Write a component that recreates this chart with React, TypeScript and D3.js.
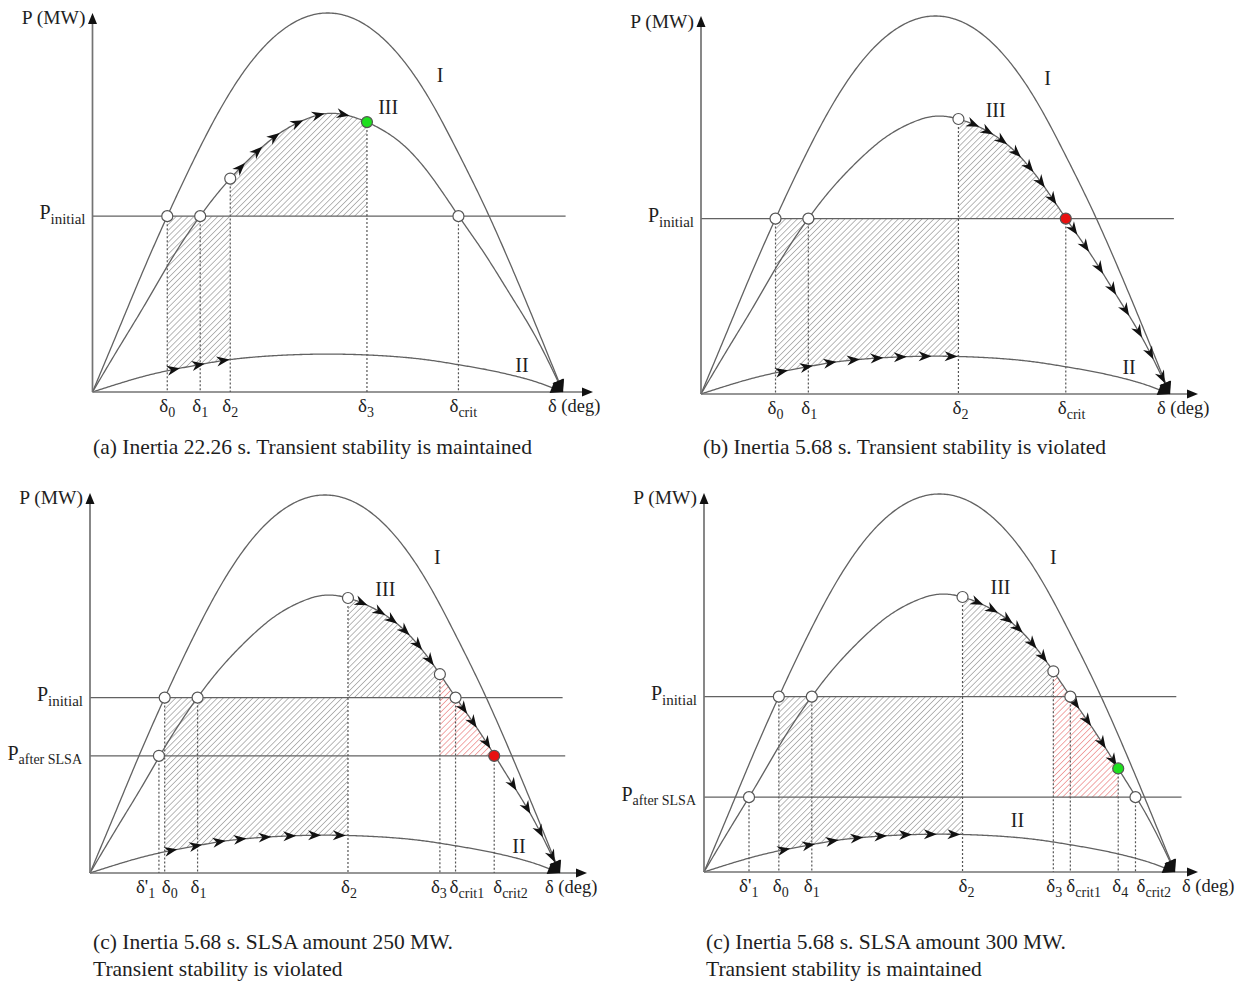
import React from "react";
import * as d3 from "d3";

// ---------- curve samples (P in % of the axis height) ----------
const DELTA_GRID = [0, 10, 20, 30, 40, 50, 60, 70, 80, 90, 100, 110, 120, 130, 140, 150, 160, 170, 180];
const P_CURVE_I = [0, 16.5, 33, 48.5, 63, 76, 86.5, 94, 98.5, 100, 98.5, 94, 86.5, 76, 63, 49, 33.5, 17, 0];
const P_CURVE_II = [0, 2.2, 4.2, 5.8, 7.1, 8.3, 9.1, 9.6, 9.9, 10, 9.9, 9.6, 9.1, 8.3, 7.2, 6.0, 4.5, 2.6, 0];
const P_CURVE_III = [0, 11.6, 23, 34.8, 45.3, 54.2, 61.5, 67.5, 71.5, 73.5, 72.5, 69.5, 64.5, 56.5, 46.5, 36.5, 25.5, 14, 0];

// ---------- per panel values ----------
const P_INITIAL = [46.4, 46.4, 46.4, 46.4];
const P_AFTER_SLSA: (number | null)[] = [null, null, 31.0, 19.8];

const CAPTIONS_A = ["(a) Inertia 22.26 s. Transient stability is maintained"];
const CAPTIONS_B = ["(b) Inertia 5.68 s. Transient stability is violated"];
const CAPTIONS_C = ["(c) Inertia 5.68 s. SLSA amount 250 MW.", "Transient stability is violated"];
const CAPTIONS_D = ["(c) Inertia 5.68 s. SLSA amount 300 MW.", "Transient stability is maintained"];

const ANGLES_A = [
  { name: "δ", sub: "0", deg: 28.6, at: "init", mark: "open" },
  { name: "δ", sub: "1", deg: 41.2, at: "init", mark: "open" },
  { name: "δ", sub: "2", deg: 52.7, at: "III", mark: "open" },
  { name: "δ", sub: "3", deg: 105, at: "III", mark: "green" },
  { name: "δ", sub: "crit", deg: 140, at: "init", mark: "open" },
];
const ANGLES_B = [
  { name: "δ", sub: "0", deg: 28.6, at: "init", mark: "open" },
  { name: "δ", sub: "1", deg: 41.2, at: "init", mark: "open" },
  { name: "δ", sub: "2", deg: 98.8, at: "III", mark: "open" },
  { name: "δ", sub: "crit", deg: 140, at: "init", mark: "red" },
];
const ANGLES_C = [
  { name: "δ'", sub: "1", deg: 26.4, at: "after", mark: "open" },
  { name: "δ", sub: "0", deg: 28.6, at: "init", mark: "open" },
  { name: "δ", sub: "1", deg: 41.2, at: "init", mark: "open" },
  { name: "δ", sub: "2", deg: 98.8, at: "III", mark: "open" },
  { name: "δ", sub: "3", deg: 134, at: "III", mark: "open" },
  { name: "δ", sub: "crit1", deg: 140, at: "init", mark: "open" },
  { name: "δ", sub: "crit2", deg: 154.8, at: "after", mark: "red" },
];
const ANGLES_D = [
  { name: "δ'", sub: "1", deg: 17.2, at: "after", mark: "open" },
  { name: "δ", sub: "0", deg: 28.6, at: "init", mark: "open" },
  { name: "δ", sub: "1", deg: 41.2, at: "init", mark: "open" },
  { name: "δ", sub: "2", deg: 98.8, at: "III", mark: "open" },
  { name: "δ", sub: "3", deg: 133.5, at: "III", mark: "open" },
  { name: "δ", sub: "crit1", deg: 140, at: "init", mark: "open" },
  { name: "δ", sub: "4", deg: 158.3, at: "III", mark: "green" },
  { name: "δ", sub: "crit2", deg: 164.9, at: "after", mark: "open" },
];

const HATCH_A = [
  { from: 28.6, to: 52.7, lower: "II", upper: "init", tone: "gray" },
  { from: 52.7, to: 105, lower: "init", upper: "III", tone: "gray" },
];
const HATCH_B = [
  { from: 28.6, to: 98.8, lower: "II", upper: "init", tone: "gray" },
  { from: 98.8, to: 140, lower: "init", upper: "III", tone: "gray" },
];
const HATCH_C = [
  { from: 28.6, to: 98.8, lower: "II", upper: "init", tone: "gray" },
  { from: 98.8, to: 134, lower: "init", upper: "III", tone: "gray" },
  { from: 134, to: 154.8, lower: "after", upper: "III", tone: "pink" },
];
const HATCH_D = [
  { from: 28.6, to: 98.8, lower: "II", upper: "init", tone: "gray" },
  { from: 98.8, to: 133.5, lower: "init", upper: "III", tone: "gray" },
  { from: 133.5, to: 158.3, lower: "after", upper: "III", tone: "pink" },
];

const ARROWS_A_II = [31, 40.5, 50];
const ARROWS_A_III = [56.6, 63.1, 69.6, 78.4, 86.4, 95.9];
const ARROWS_B_II = [31, 40.5, 49.5, 58.5, 67.5, 76.5, 86, 96];
const ARROWS_B_III = [104.5, 110, 115.5, 121, 126, 130.5, 135, 143, 147.5, 153, 158, 163, 168, 172.5, 177];
const ARROWS_C_II = [31, 40.5, 49.5, 57.5, 67, 76.5, 86, 95.5];
const ARROWS_C_III = [104, 111, 115.7, 120.6, 125.6, 130.2, 143, 146.7, 152, 162, 167.4, 172.3, 177];
const ARROWS_D_II = [30.5, 40, 49, 58.4, 67.5, 77, 86.5, 95.5];
const ARROWS_D_III = [104.5, 110.2, 116, 120, 125.5, 129.6, 142, 146.5, 152.2, 156.4];

const CURVE_LABELS_ABC = [
  { text: "I", deg: 133, p: 81.8 },
  { text: "II", deg: 164.3, p: 5.3 },
  { text: "III", deg: 113.1, p: 73.4 },
];
const CURVE_LABELS_D = [
  { text: "I", deg: 133.5, p: 81.5 },
  { text: "II", deg: 119.8, p: 11.8 },
  { text: "III", deg: 113.3, p: 73.6 },
];

// ---------- layout (pixels) ----------
const LAYOUT = [
  { ox: 92.5, oy: 392, w: 470.5, h: 379, yTip: 13, xTip: 593, degX: 548, pmwY: 24, capX: 93, capY: [454], initEnd: 181, afterEnd: 181 },
  { ox: 701, oy: 394, w: 469, h: 378, yTip: 16, xTip: 1198, degX: 1157, pmwY: 28, capX: 703, capY: [454], initEnd: 181.5, afterEnd: 181 },
  { ox: 90, oy: 873, w: 470, h: 378, yTip: 493, xTip: 587, degX: 545, pmwY: 504, capX: 93, capY: [949, 976], initEnd: 181, afterEnd: 182 },
  { ox: 704, oy: 872, w: 471, h: 378, yTip: 493, xTip: 1198, degX: 1182, pmwY: 504, capX: 706, capY: [949, 976], initEnd: 180.5, afterEnd: 182.5 },
];
const TICK_DX = [
  [-8, -8, -8, -9, -9],
  [-8, -7, -6, -8],
  [-23, -3, -7, -7, -9, -6, -1],
  [-10, -6, -8, -4, -7, -4, -6, 1],
];

const FONT = "'Liberation Serif', 'Times New Roman', serif";
const TEXT = "#1e1e1e";
const LINE = "#626262";

// natural cubic spline through the samples
function naturalSpline(xsIn: number[], ysIn: number[]) {
  const n = xsIn.length;
  const h = xsIn[1] - xsIn[0];
  const m = n - 2;
  const d: number[] = [];
  for (let i = 1; i < n - 1; i++) d.push((6 * (ysIn[i + 1] - 2 * ysIn[i] + ysIn[i - 1])) / (h * h));
  const cp = new Array(m).fill(0);
  const dp = new Array(m).fill(0);
  cp[0] = 1 / 4;
  dp[0] = d[0] / 4;
  for (let i = 1; i < m; i++) {
    const den = 4 - cp[i - 1];
    cp[i] = 1 / den;
    dp[i] = (d[i] - dp[i - 1]) / den;
  }
  const sol = new Array(m).fill(0);
  sol[m - 1] = dp[m - 1];
  for (let i = m - 2; i >= 0; i--) sol[i] = dp[i] - cp[i] * sol[i + 1];
  const M = [0, ...sol, 0];
  return (x: number) => {
    let i = Math.floor((x - xsIn[0]) / h);
    i = Math.max(0, Math.min(n - 2, i));
    const x0 = xsIn[i];
    const x1 = xsIn[i + 1];
    const A = x1 - x;
    const B = x - x0;
    return (
      (M[i] * A * A * A) / (6 * h) +
      (M[i + 1] * B * B * B) / (6 * h) +
      (ysIn[i] / h - (M[i] * h) / 6) * A +
      (ysIn[i + 1] / h - (M[i + 1] * h) / 6) * B
    );
  };
}

const CURVE_FN: Record<string, (d: number) => number> = {
  I: naturalSpline(DELTA_GRID, P_CURVE_I),
  II: naturalSpline(DELTA_GRID, P_CURVE_II),
  III: naturalSpline(DELTA_GRID, P_CURVE_III),
};

const PANELS = [
  { angles: ANGLES_A, hatch: HATCH_A, arrII: ARROWS_A_II, arrIII: ARROWS_A_III, labels: CURVE_LABELS_ABC, captions: CAPTIONS_A },
  { angles: ANGLES_B, hatch: HATCH_B, arrII: ARROWS_B_II, arrIII: ARROWS_B_III, labels: CURVE_LABELS_ABC, captions: CAPTIONS_B },
  { angles: ANGLES_C, hatch: HATCH_C, arrII: ARROWS_C_II, arrIII: ARROWS_C_III, labels: CURVE_LABELS_ABC, captions: CAPTIONS_C },
  { angles: ANGLES_D, hatch: HATCH_D, arrII: ARROWS_D_II, arrIII: ARROWS_D_III, labels: CURVE_LABELS_D, captions: CAPTIONS_D },
];

const ARROW_PATH = "M0,0 L-13,-5 L-9,0 L-13,5 Z";
const END_PATH = "M0,0 L-12,-6 L-12,6 Z";

function Panel({ i }: { i: number }) {
  const L = LAYOUT[i];
  const P = PANELS[i];
  const xs = d3.scaleLinear().domain([0, 180]).range([L.ox, L.ox + L.w]);
  const ys = d3.scaleLinear().domain([0, 100]).range([L.oy, L.oy - L.h]);
  const pInit = P_INITIAL[i];
  const pAfter = P_AFTER_SLSA[i];
  const level = (key: string, d: number) =>
    key === "init" ? pInit : key === "after" ? (pAfter as number) : CURVE_FN[key](d);
  const steps = d3.range(0, 180.0001, 0.5);
  const curvePath = (key: string) =>
    d3.line<number>().x((d) => xs(d)).y((d) => ys(CURVE_FN[key](d)))(steps) || "";
  const areaPath = (h: { from: number; to: number; lower: string; upper: string }) => {
    const ds = d3.range(h.from, h.to, 0.25).concat([h.to]);
    return (
      d3
        .area<number>()
        .x((d) => xs(d))
        .y0((d) => ys(level(h.lower, d)))
        .y1((d) => ys(level(h.upper, d)))(ds) || ""
    );
  };
  const arrowTransform = (key: string, d: number, atTip: boolean) => {
    const f = CURVE_FN[key];
    const a = Math.min(d, 179.7);
    const p0 = [xs(a), ys(f(a))];
    const p1 = [xs(a + 0.3), ys(f(a + 0.3))];
    const ang = (Math.atan2(p1[1] - p0[1], p1[0] - p0[0]) * 180) / Math.PI;
    const px = xs(d);
    const py = ys(f(d));
    return atTip
      ? `translate(${px},${py}) rotate(${ang})`
      : `translate(${px},${py}) rotate(${ang}) translate(6.5,0)`;
  };

  return (
    <g>
      {P.hatch.map((h, k) => (
        <path key={"h" + k} d={areaPath(h)} fill={h.tone === "pink" ? "url(#hatchPink)" : "url(#hatchGray)"} stroke="none" />
      ))}
      {["I", "II", "III"].map((k) => (
        <path key={k} d={curvePath(k)} fill="none" stroke={LINE} strokeWidth={1.3} />
      ))}
      {/* power levels */}
      <line x1={L.ox} x2={xs(L.initEnd)} y1={ys(pInit)} y2={ys(pInit)} stroke={LINE} strokeWidth={1.3} />
      {pAfter !== null && (
        <line x1={L.ox} x2={xs(L.afterEnd)} y1={ys(pAfter)} y2={ys(pAfter)} stroke={LINE} strokeWidth={1.3} />
      )}
      {/* axes */}
      <line x1={L.ox} x2={L.ox} y1={L.oy} y2={L.yTip + 6} stroke="#737373" strokeWidth={1.7} />
      <path d={`M${L.ox},${L.yTip} L${L.ox - 4.5},${L.yTip + 11} L${L.ox + 4.5},${L.yTip + 11} Z`} fill="#111" />
      <line x1={L.ox} x2={L.xTip - 6} y1={L.oy} y2={L.oy} stroke="#737373" strokeWidth={1.7} />
      <path d={`M${L.xTip},${L.oy} L${L.xTip - 11},${L.oy - 4.5} L${L.xTip - 11},${L.oy + 4.5} Z`} fill="#111" />
      {/* dotted verticals */}
      {P.angles.map((a, k) => (
        <line
          key={"v" + k}
          x1={xs(a.deg)}
          x2={xs(a.deg)}
          y1={ys(level(a.at, a.deg))}
          y2={L.oy}
          stroke="#555"
          strokeWidth={1.2}
          strokeDasharray="2,2"
        />
      ))}
      {/* trajectory arrows */}
      {P.arrII.map((d, k) => (
        <path key={"a2" + k} d={ARROW_PATH} transform={arrowTransform("II", d, false)} fill="#111" />
      ))}
      {P.arrIII.map((d, k) => (
        <path key={"a3" + k} d={ARROW_PATH} transform={arrowTransform("III", d, false)} fill="#111" />
      ))}
      {["I", "II", "III"].map((k) => (
        <path key={"end" + k} d={END_PATH} transform={arrowTransform(k, 180, true)} fill="#111" />
      ))}
      <rect x={xs(180) - 9} y={L.oy - 8} width={9} height={8} fill="#111" />
      {/* markers */}
      {P.angles.map((a, k) => (
        <circle
          key={"c" + k}
          cx={xs(a.deg)}
          cy={ys(level(a.at, a.deg))}
          r={5.5}
          fill={a.mark === "green" ? "#1fe01f" : a.mark === "red" ? "#e81010" : "#fff"}
          stroke="#555"
          strokeWidth={1.2}
        />
      ))}
      {/* curve labels */}
      {P.labels.map((lb, k) => (
        <text key={"l" + k} x={xs(lb.deg)} y={ys(lb.p)} fontSize={20} textAnchor="middle" fill={TEXT} fontFamily={FONT}>
          {lb.text}
        </text>
      ))}
      {/* tick labels */}
      {P.angles.map((a, k) => (
        <text key={"t" + k} x={xs(a.deg) + TICK_DX[i][k]} y={L.oy + 20} fontSize={19} fill={TEXT} fontFamily={FONT}>
          {a.name}
          <tspan fontSize={14} dy={5}>
            {a.sub}
          </tspan>
        </text>
      ))}
      <text x={L.degX} y={L.oy + 20} fontSize={18.5} fill={TEXT} fontFamily={FONT}>
        δ (deg)
      </text>
      <text x={L.ox - 7} y={L.pmwY} fontSize={19.5} textAnchor="end" fill={TEXT} fontFamily={FONT}>
        P (MW)
      </text>
      <text x={L.ox - 7} y={ys(pInit) + 3} fontSize={20} textAnchor="end" fill={TEXT} fontFamily={FONT}>
        P
        <tspan fontSize={15} dy={5}>
          initial
        </tspan>
      </text>
      {pAfter !== null && (
        <text x={L.ox - 8} y={ys(pAfter) + 4} fontSize={20} textAnchor="end" fill={TEXT} fontFamily={FONT}>
          P
          <tspan fontSize={14} dy={4}>
            after SLSA
          </tspan>
        </text>
      )}
      {P.captions.map((c, k) => (
        <text key={"cap" + k} x={L.capX} y={L.capY[k]} fontSize={21.5} fill={TEXT} fontFamily={FONT}>
          {c}
        </text>
      ))}
    </g>
  );
}

export default function App() {
  return (
    <svg
      width={1243}
      height={982}
      viewBox="0 0 1243 982"
      style={{ position: "absolute", left: 0, top: 0, background: "#fff" }}
    >
      <defs>
        <pattern id="hatchGray" patternUnits="userSpaceOnUse" width={4.2} height={4.2} patternTransform="rotate(45)">
          <line x1={0} y1={0} x2={0} y2={4.2} stroke="#7a7a7a" strokeWidth={1.05} />
        </pattern>
        <pattern id="hatchPink" patternUnits="userSpaceOnUse" width={4.2} height={4.2} patternTransform="rotate(45)">
          <line x1={0} y1={0} x2={0} y2={4.2} stroke="#e86a6a" strokeWidth={1.15} />
        </pattern>
      </defs>
      <rect x={0} y={0} width={1243} height={982} fill="#fff" />
      {[0, 1, 2, 3].map((i) => (
        <Panel key={i} i={i} />
      ))}
    </svg>
  );
}
